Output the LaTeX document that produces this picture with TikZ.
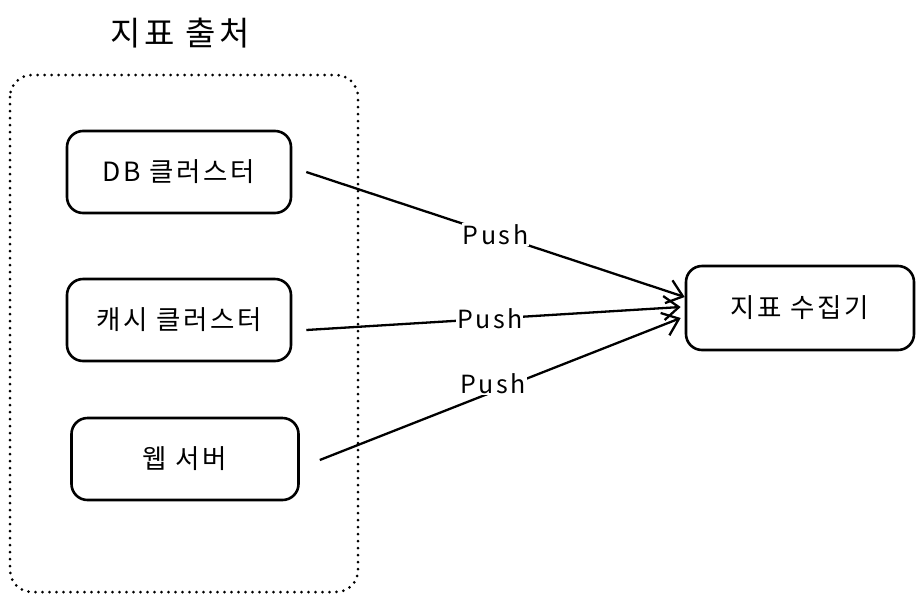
\documentclass[tikz,border=0pt]{standalone}
\usepackage{fontspec}
\setmainfont{Noto Sans CJK KR}
\newfontfamily\sketchfont[LetterSpace=10]{Noto Sans CJK KR}
\usetikzlibrary{positioning, calc, arrows.meta}

\begin{document}
\begin{tikzpicture}[x=1pt, y=-1pt,
		source/.style = {draw, line width=2.6pt, rounded corners=16pt, minimum width=224pt, minimum height=82pt, font=\sketchfont\fontsize{26.5}{30}\selectfont},
		push/.style = {draw, line width=2.3pt, -{Straight Barb[length=15pt, width=24pt, line width=2.3pt]}},
		pushlabel/.style = {fill=white, inner sep=1pt, font=\sketchfont\fontsize{25}{29}\selectfont}]
	\useasboundingbox (0,0) rectangle (924,598);
	% title and group frame
	\node[font=\sketchfont\fontsize{33}{38}\selectfont] (title) at (180,33) {지표 출처};
	\draw[line width=3pt, line cap=round, dash pattern=on 0pt off 7pt, rounded corners=22pt] (10,75) rectangle (358,592);
	% metric sources
	\node[source] (db) at (179,172) {DB 클러스터};
	\node[source] (cache) at (179,320) {캐시 클러스터};
	\node[source, minimum width=227pt] (web) at (185,459) {웹 서버};
	% collector
	\node[source, minimum width=228pt, minimum height=84pt] (collector) at (800,308) {지표 수집기};
	% push connectors
	\draw[push] ($(db.east)+(14,0)$) -- node[pushlabel, pos=0.5] {Push} ($(collector.west)+(0,-11)$);
	\draw[push] ($(cache.east)+(14,10)$) -- node[pushlabel, pos=0.49] {Push} ($(collector.west)+(-4,-1)$);
	\draw[push] ($(web.east)+(20,1)$) -- node[pushlabel, pos=0.48, above=-4pt] {Push} ($(collector.west)+(-4,10)$);
\end{tikzpicture}
\end{document}
